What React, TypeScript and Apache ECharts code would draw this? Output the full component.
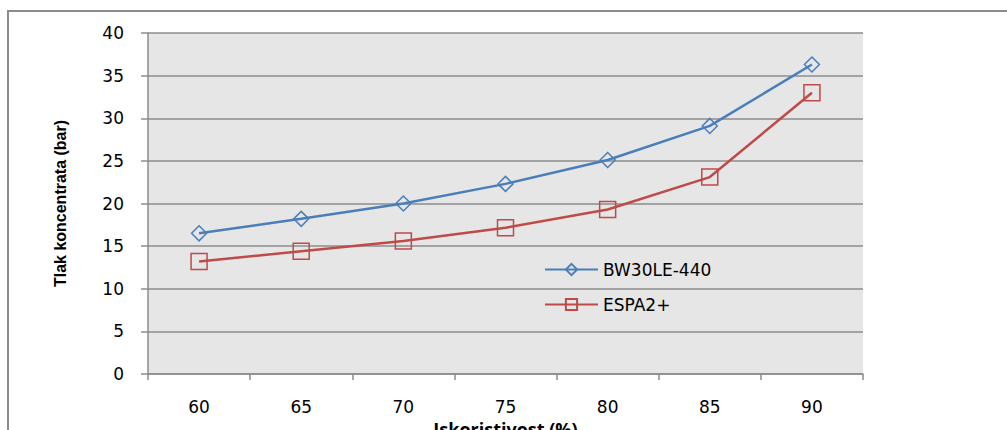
import React, { useEffect, useRef } from "react";
import * as echarts from "echarts";

const categories = ["60", "65", "70", "75", "80", "85", "90"];
const bw30le440 = [16.5, 18.2, 20.0, 22.3, 25.1, 29.1, 36.3];
const espa2 = [13.2, 14.4, 15.6, 17.15, 19.3, 23.1, 33.0];
const seriesNames = ["BW30LE-440", "ESPA2+"];

export default function App() {
  const ref = useRef<HTMLDivElement>(null);
  useEffect(() => {
    if (!ref.current) return;
    const chart = echarts.init(ref.current, null, { renderer: "svg" });
    const gridColor = "#8c8c8c";
    chart.setOption({
      animation: false,
      backgroundColor: "#ffffff",
      textStyle: { fontFamily: "DejaVu Sans" },
      graphic: [
        {
          type: "rect",
          shape: { x: 8, y: 11, width: 1100, height: 500 },
          style: { fill: "none", stroke: "#8c8c8c", lineWidth: 2 },
          z: -1,
        },
      ],
      grid: {
        left: 148,
        top: 33,
        width: 715,
        height: 341,
        backgroundColor: "#e6e6e6",
        show: true,
        borderWidth: 0,
        outerBoundsMode: "none",
        containLabel: false,
      },
      legend: {
        orient: "vertical",
        left: 544,
        top: 261,
        padding: 0,
        itemWidth: 53,
        itemHeight: 14,
        itemGap: 18,
        textStyle: { fontFamily: "DejaVu Sans", fontSize: 17, color: "#000" },
        data: seriesNames,
      },
      xAxis: {
        type: "category",
        data: categories,
        boundaryGap: true,
        name: "Iskoristivost (%)",
        nameLocation: "middle",
        nameGap: 40,
        nameTextStyle: { fontFamily: "Open Sans", fontWeight: "bold", fontSize: 18, color: "#000" },
        axisLine: { lineStyle: { color: gridColor, width: 1.5 } },
        axisTick: { show: true, alignWithLabel: false, length: 6, lineStyle: { color: gridColor, width: 1.5 } },
        axisLabel: { color: "#000", fontSize: 17, margin: 24, fontFamily: "DejaVu Sans" },
        splitLine: { show: false },
      },
      yAxis: {
        type: "value",
        min: 0,
        max: 40,
        interval: 5,
        name: "Tlak koncentrata (bar)",
        nameLocation: "middle",
        nameGap: 80,
        nameTextStyle: { fontFamily: "Liberation Sans", fontWeight: "bold", fontSize: 16, color: "#000" },
        axisLine: { show: true, lineStyle: { color: gridColor, width: 1.5 } },
        axisTick: { show: true, length: 7, lineStyle: { color: gridColor, width: 1.5 } },
        axisLabel: { color: "#000", fontSize: 17, margin: 24, fontFamily: "DejaVu Sans" },
        splitLine: { show: true, lineStyle: { color: gridColor, width: 1.5 } },
      },
      series: [
        {
          name: seriesNames[0],
          type: "line",
          data: bw30le440,
          symbol: "diamond",
          symbolSize: 15,
          lineStyle: { color: "#4a7ebb", width: 2.5 },
          itemStyle: { color: "rgba(0,0,0,0)", borderColor: "#4a7ebb", borderWidth: 1.5 },
        },
        {
          name: seriesNames[1],
          type: "line",
          data: espa2,
          symbol: "rect",
          symbolSize: 16,
          lineStyle: { color: "#be4b48", width: 2.5 },
          itemStyle: { color: "rgba(0,0,0,0)", borderColor: "#be4b48", borderWidth: 1.5 },
        },
      ],
    });
    return () => chart.dispose();
  }, []);
  return (
    <div
      ref={ref}
      style={{ position: "absolute", left: 0, top: 0, width: 1007, height: 430 }}
    />
  );
}
